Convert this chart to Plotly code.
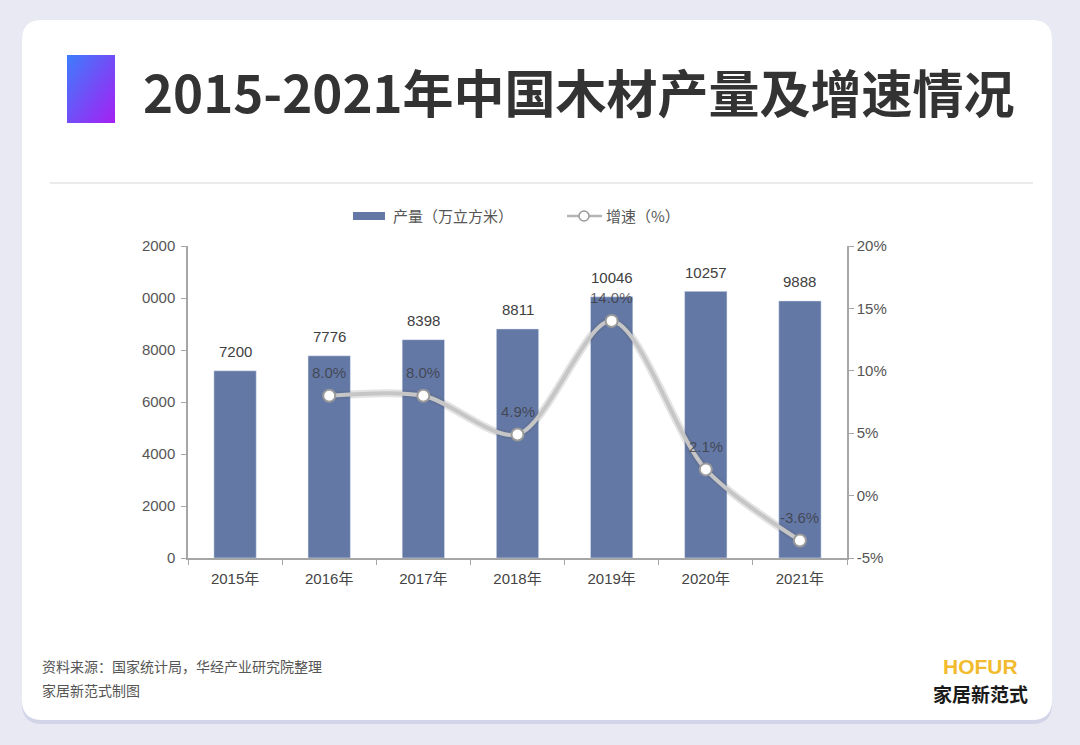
import base64
import plotly.graph_objects as go

years = ["2015年", "2016年", "2017年", "2018年", "2019年", "2020年", "2021年"]
output = [7200, 7776, 8398, 8811, 10046, 10257, 9888]
growth = [None, 8.0, 8.0, 4.9, 14.0, 2.1, -3.6]
growth_labels = ["", "8.0%", "8.0%", "4.9%", "14.0%", "2.1%", "-3.6%"]
left_ticks = [0, 2000, 4000, 6000, 8000, 10000, 12000]
left_tick_text = ["0", "2000", "4000", "6000", "8000", "0000", "2000"]
right_ticks = [-5, 0, 5, 10, 15, 20]
right_tick_text = ["-5%", "0%", "5%", "10%", "15%", "20%"]
legend_names = ["产量（万立方米）", "增速（%）"]

W, H = 1080, 745
L, R, T, B = 188, 847, 246, 558


def px(x, y):
    return (x - L) / (R - L), (B - y) / (B - T)


def rrect(x0, y0, x1, y1, r):
    pts = [
        ("M", [(x0 + r, y0)]), ("L", [(x1 - r, y0)]), ("Q", [(x1, y0), (x1, y0 + r)]),
        ("L", [(x1, y1 - r)]), ("Q", [(x1, y1), (x1 - r, y1)]),
        ("L", [(x0 + r, y1)]), ("Q", [(x0, y1), (x0, y1 - r)]),
        ("L", [(x0, y0 + r)]), ("Q", [(x0, y0), (x0 + r, y0)]),
    ]
    s = ""
    for cmd, ps in pts:
        s += cmd + " " + " ".join("%.5f,%.5f" % px(a, b) for a, b in ps) + " "
    return s + "Z"


FONT = "Liberation Sans, Arial, Noto Sans CJK SC, sans-serif"
CJK = "Noto Sans CJK SC, sans-serif"
BAR_COLOR = "#6478a6"

fig = go.Figure()
fig.add_trace(go.Bar(
    x=years, y=output, name=legend_names[0], marker_color=BAR_COLOR,
    width=0.45, showlegend=False, hoverinfo="x+y",
))
fig.add_trace(go.Scatter(
    x=years, y=growth, yaxis="y2", mode="lines", showlegend=False,
    line=dict(color="rgba(90,90,90,0.16)", width=8, shape="spline", smoothing=0.85),
    hoverinfo="skip",
))
fig.add_trace(go.Scatter(
    x=years, y=growth, yaxis="y2", mode="lines+markers", name=legend_names[1],
    line=dict(color="#c6c6c6", width=4, shape="spline", smoothing=0.85),
    marker=dict(size=12, color="white", line=dict(color="#9a9a9a", width=2)),
    showlegend=False,
))

shapes = [
    dict(type="path", xref="paper", yref="paper", path=rrect(22, 23, 1052, 724, 20),
         fillcolor="rgba(170,175,215,0.35)", line=dict(width=0), layer="below"),
    dict(type="path", xref="paper", yref="paper", path=rrect(22, 20, 1052, 720, 20),
         fillcolor="white", line=dict(width=0), layer="below"),
]
x0, y0 = px(50, 183)
x1, _ = px(1033, 183)
shapes.append(dict(type="line", xref="paper", yref="paper", x0=x0, x1=x1, y0=y0, y1=y0,
                   line=dict(color="#d6d6d6", width=1)))

# manual legend
lx0, ly0 = px(353, 212)
lx1, ly1 = px(385, 220)
shapes.append(dict(type="rect", xref="paper", yref="paper", x0=lx0, x1=lx1, y0=ly1, y1=ly0,
                   fillcolor=BAR_COLOR, line=dict(width=0)))
a0, ay = px(567, 216)
a1, _ = px(602, 216)
shapes.append(dict(type="line", xref="paper", yref="paper", x0=a0, x1=a1, y0=ay, y1=ay,
                   line=dict(color="#b5b5b5", width=2.5)))
c0, cy0 = px(579, 211)
c1, cy1 = px(589, 221)
shapes.append(dict(type="circle", xref="paper", yref="paper", x0=c0, x1=c1, y0=cy1, y1=cy0,
                   fillcolor="white", line=dict(color="#9a9a9a", width=1.5)))

svg = ('<svg xmlns="http://www.w3.org/2000/svg" width="48" height="68">'
       '<defs><linearGradient id="g" x1="0" y1="0" x2="1" y2="1">'
       '<stop offset="0" stop-color="#3d7dfc"/><stop offset="1" stop-color="#a61ff2"/>'
       '</linearGradient></defs><rect width="48" height="68" fill="url(#g)"/></svg>')
src = "data:image/svg+xml;base64," + base64.b64encode(svg.encode()).decode()
ix, iy = px(67, 55)
ix2, iy2 = px(115, 123)

annotations = []


def ann(text, x, y, size, color, family=CJK, xanchor="left", bold=False):
    ax, ay = px(x, y)
    if bold:
        text = "<b>" + text + "</b>"
    annotations.append(dict(text=text, x=ax, y=ay, xref="paper", yref="paper", showarrow=False,
                            xanchor=xanchor, yanchor="middle",
                            font=dict(size=size, color=color, family=family)))


ann("2015-2021年中国木材产量及增速情况", 141, 91, 51, "#333333", bold=True)
ann(legend_names[0], 391, 216, 15, "#555555")
ann(legend_names[1], 604, 216, 15, "#555555")
ann("资料来源：国家统计局，华经产业研究院整理", 40, 666, 14, "#555555")
ann("家居新范式制图", 40, 690, 14, "#555555")
ann("HOFUR", 980, 666, 21, "#f2bb2e", family="Liberation Sans, Arial", xanchor="center", bold=True)
ann("家居新范式", 980, 693, 19, "#1a1a1a", xanchor="center", bold=True)

# data labels
for yr, v in zip(years, output):
    annotations.append(dict(x=yr, y=v, xref="x", yref="y", text=str(v), showarrow=False,
                            yshift=19, yanchor="middle",
                            font=dict(size=15, color="#404040", family=FONT)))
for yr, g, t in zip(years, growth, growth_labels):
    if g is None:
        continue
    annotations.append(dict(x=yr, y=g, xref="x", yref="y2", text=t, showarrow=False,
                            yshift=23, yanchor="middle",
                            font=dict(size=15, color="rgba(55,55,55,0.75)", family=FONT)))

fig.update_layout(
    width=W, height=H,
    margin=dict(l=L, r=W - R, t=T, b=H - B),
    paper_bgcolor="#e8e9f2", plot_bgcolor="rgba(0,0,0,0)",
    font=dict(family=FONT, color="#555555", size=15),
    showlegend=False,
    bargap=0.55,
    xaxis=dict(showline=True, linecolor="#a6a6a6", linewidth=1.5, ticks="outside",
               tickson="boundaries", ticklen=5, tickcolor="#a6a6a6", showgrid=False,
               ticklabelstandoff=6, tickfont=dict(size=15, color="#444444")),
    yaxis=dict(range=[0, 12000], tickvals=left_ticks, ticktext=left_tick_text,
               showline=True, linecolor="#a6a6a6", linewidth=1.5, ticks="outside",
               ticklen=5, tickcolor="#a6a6a6", showgrid=False, zeroline=False,
               ticklabelstandoff=3, tickfont=dict(size=15, color="#555555")),
    yaxis2=dict(range=[-5, 20], tickvals=right_ticks, ticktext=right_tick_text,
                overlaying="y", side="right", showline=True, linecolor="#a6a6a6",
                linewidth=1.5, ticks="outside", ticklen=5, tickcolor="#a6a6a6",
                showgrid=False, zeroline=False, tickfont=dict(size=15, color="#555555")),
    shapes=shapes,
    annotations=annotations,
    images=[dict(source=src, xref="paper", yref="paper", x=ix, y=iy, sizex=ix2 - ix,
                 sizey=iy - iy2, xanchor="left", yanchor="top", sizing="stretch",
                 layer="above")],
)

fig.write_html("out.html", config={"displayModeBar": False},
               post_script="document.body.style.margin='0';")
